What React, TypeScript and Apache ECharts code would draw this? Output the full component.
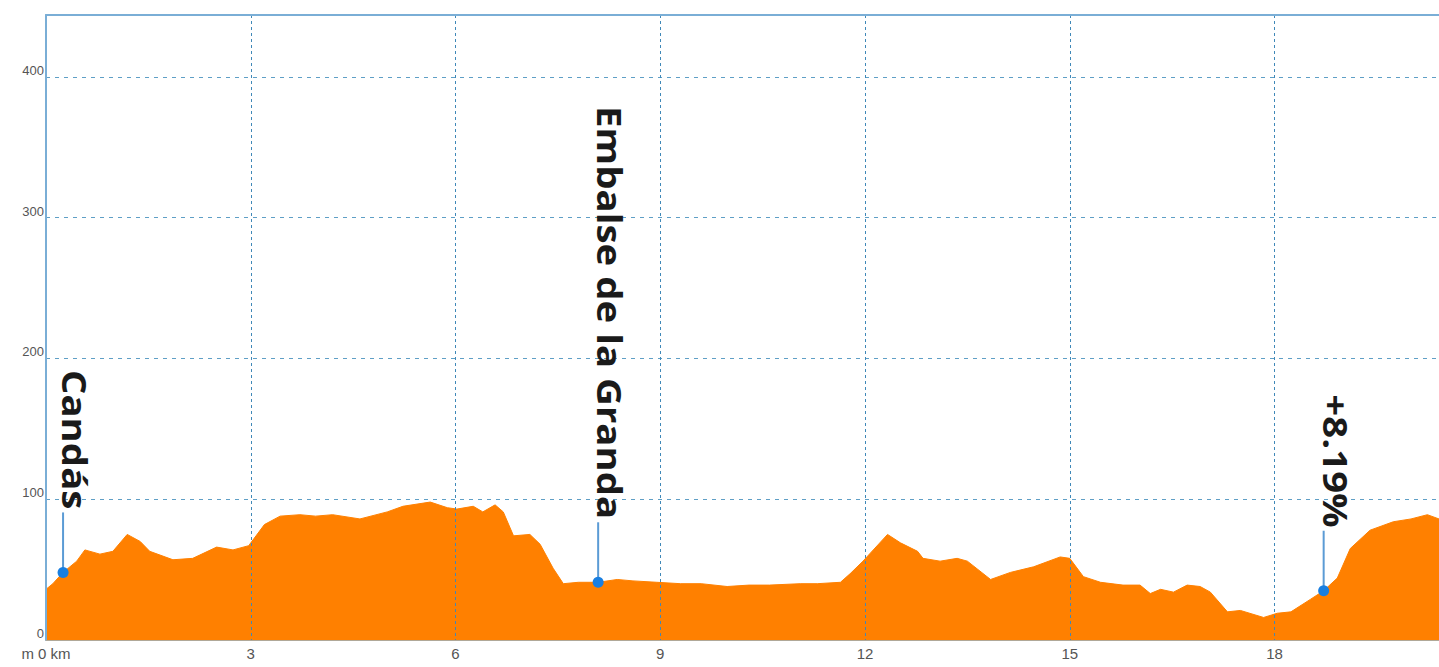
import React, { useEffect, useRef } from "react";
import * as echarts from "echarts";

// distance (km) and elevation (m) of the profile
const kms = [
  0, 0.1, 0.25, 0.45, 0.57, 0.79, 0.98, 1.19, 1.38, 1.52, 1.86, 2.15, 2.5, 2.74, 2.97,
  3.2, 3.43, 3.72, 3.95, 4.2, 4.6, 5.0, 5.23, 5.63, 5.88, 6.02, 6.26, 6.4, 6.58, 6.7,
  6.85, 7.09, 7.24, 7.43, 7.58, 7.8, 8.09, 8.37, 8.6, 8.95, 9.3, 9.6, 9.98, 10.3, 10.6,
  11.05, 11.3, 11.64, 11.78, 11.97, 12.33, 12.52, 12.77, 12.85, 13.1, 13.35, 13.5, 13.84,
  14.13, 14.47, 14.86, 15.0, 15.2, 15.45, 15.78, 16.03, 16.18, 16.33, 16.52, 16.72, 16.91,
  17.06, 17.31, 17.5, 17.84, 18.04, 18.24, 18.53, 18.72, 18.92, 19.11, 19.4, 19.74, 20.0,
  20.24, 20.41,
];
const elevs = [
  36, 40, 48, 56, 64, 61, 63, 75, 70, 63, 57, 58, 66, 64, 67,
  82, 88, 89, 88, 89, 86, 91, 95, 98, 94, 93, 95, 91, 96, 91,
  74, 75, 68, 51, 40, 41, 41, 43, 42, 41, 40, 40, 38, 39, 39,
  40, 40, 41, 47, 56, 75, 69, 63, 58, 56, 58, 56, 43,
  48, 52, 59, 58, 45, 41, 39, 39, 33, 36, 34, 39, 38,
  34, 20, 21, 16, 19, 20, 29, 35, 44, 65, 78, 84, 86,
  89, 86,
];

// annotated points
const markerNames = ["Candás", "Embalse de la Granda", "+8.19%"];
const markerKm = [0.25, 8.09, 18.72];
const markerElev = [48, 41, 35];

// axis settings
const xMax = 20.41;
const xInterval = 3;
const yMax = 444;
const yInterval = 100;
const yUnit = "m";
const xUnit = "km";

export default function App() {
  const ref = useRef<HTMLDivElement>(null);

  useEffect(() => {
    if (!ref.current) return;
    const chart = echarts.init(ref.current, null, { renderer: "svg" });
    const frameColor = "#7aaed6";
    const labelFont = "Liberation Sans, Arial, sans-serif";
    chart.setOption({
      animation: false,
      backgroundColor: "#ffffff",
      grid: { left: 46, right: 0, top: 15, bottom: 27, containLabel: false },
      xAxis: [
        {
          type: "value",
          min: 0,
          max: xMax,
          interval: xInterval,
          z: 3,
          axisLine: { show: true, lineStyle: { color: "#b0a898", width: 1 } },
          axisTick: { show: false },
          axisLabel: {
            color: "#555",
            fontSize: 15,
            fontFamily: labelFont,
            margin: 6,
            showMaxLabel: false,
            formatter: (v: number) => (v === 0 ? `{u|${yUnit} }0{k| ${xUnit}}` : String(v)),
            rich: {
              u: { color: "#555", fontSize: 15, fontFamily: labelFont },
              k: { color: "#555", fontSize: 15, fontFamily: labelFont },
            },
          },
          splitLine: { show: true, lineStyle: { color: "#3f88b8", type: [3, 3], width: 1 } },
        },
        {
          type: "value",
          position: "top",
          min: 0,
          max: xMax,
          interval: xInterval,
          z: 3,
          axisLine: { show: true, onZero: false, lineStyle: { color: frameColor, width: 2 } },
          axisTick: { show: false },
          axisLabel: { show: false },
          splitLine: { show: false },
        },
      ],
      yAxis: {
        type: "value",
        min: 0,
        max: yMax,
        interval: yInterval,
        z: 3,
        axisLine: { show: true, lineStyle: { color: frameColor, width: 2 } },
        axisTick: { show: false },
        axisLabel: {
          color: "#555",
          fontSize: 13,
          fontFamily: labelFont,
          margin: 2,
          verticalAlign: "bottom",
          lineHeight: 13,
          showMaxLabel: false,
        },
        splitLine: { show: true, lineStyle: { color: "#5f9fc6", type: [4, 5], width: 1 } },
      },
      series: [
        {
          type: "line",
          data: kms.map((k, i) => [k, elevs[i]]),
          showSymbol: false,
          symbol: "none",
          z: 1,
          lineStyle: { color: "#ff8000", width: 1 },
          areaStyle: { color: "#ff8000", opacity: 1 },
          silent: true,
        },
        {
          type: "custom",
          z: 5,
          data: markerKm.map((k, i) => [k, markerElev[i]]),
          renderItem: (params: any, api: any) => {
            const p = api.coord([api.value(0), api.value(1)]);
            const top = p[1] - 60;
            return {
              type: "group",
              children: [
                {
                  type: "line",
                  shape: { x1: p[0], y1: p[1], x2: p[0], y2: top },
                  style: { stroke: "#5b9bd5", lineWidth: 2 },
                },
                {
                  type: "circle",
                  shape: { cx: p[0], cy: p[1], r: 5.5 },
                  style: { fill: "#1a7fe0" },
                },
                {
                  type: "text",
                  x: p[0] - 5,
                  y: top - 3,
                  rotation: -Math.PI / 2,
                  scaleX: 1.13,
                  style: {
                    text: markerNames[params.dataIndex],
                    font: 'bold 34px "Open Sans"',
                    fill: "#1a1a1a",
                    align: "right",
                    verticalAlign: "bottom",
                  },
                },
              ],
            };
          },
        },
      ],
    });
    return () => chart.dispose();
  }, []);

  return (
    <div
      ref={ref}
      style={{ position: "absolute", left: 0, top: 0, width: 1439, height: 667 }}
    />
  );
}
